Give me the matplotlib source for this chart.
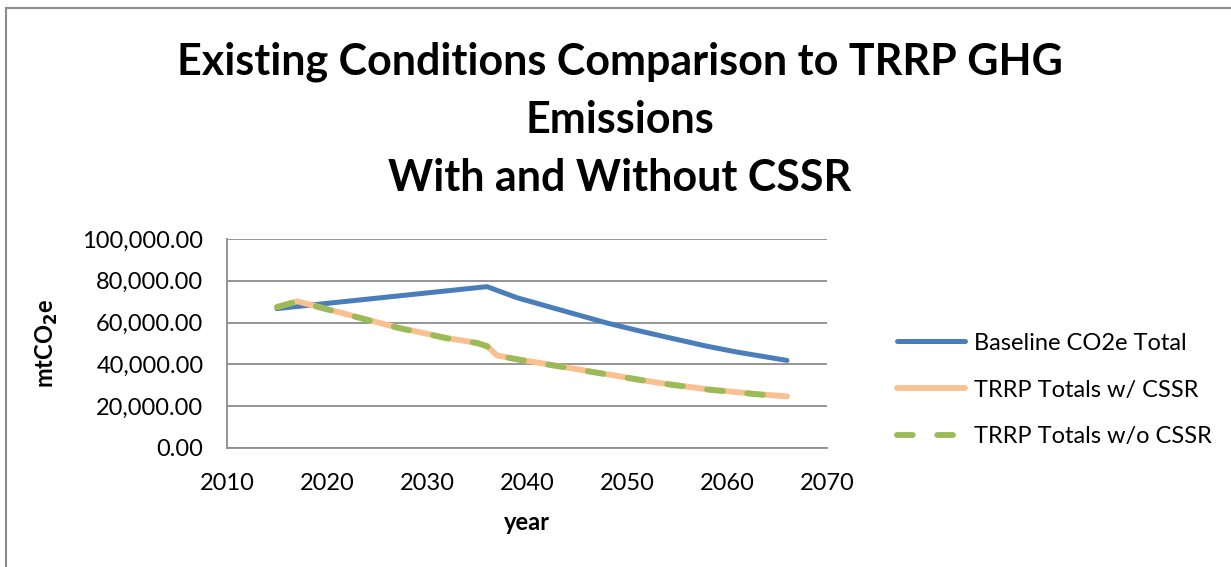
import matplotlib
matplotlib.use("Agg")
import matplotlib.pyplot as plt
from matplotlib.patches import Rectangle
from matplotlib.ticker import FuncFormatter

# emissions series (mtCO2e)
baseline_years = [2015, 2036, 2039, 2043, 2048, 2051, 2054, 2058, 2061, 2066]
baseline_co2e = [66700, 77200, 71900, 66500, 59800, 56300, 53000, 48700, 45900, 41900]

trrp_years = [2015, 2017, 2027, 2032, 2035, 2036, 2037, 2039, 2043, 2048, 2053, 2058, 2063, 2066]
trrp_with_cssr = [67500, 70200, 57700, 52600, 50300, 48800, 44300, 42500, 39300, 35300, 31300, 28100, 25800, 24700]
trrp_without_cssr = [67400, 70100, 57600, 52500, 50200, 48700, 44200, 42400, 39200, 35200, 31200, 28000, 25700, 24600]

series_labels = ["Baseline CO2e Total", "TRRP Totals w/ CSSR", "TRRP Totals w/o CSSR"]
x_ticks = [2010, 2020, 2030, 2040, 2050, 2060, 2070]
y_ticks = [0, 20000, 40000, 60000, 80000, 100000]

plt.rcParams['font.family'] = ['Lato', 'DejaVu Sans']

fig = plt.figure(figsize=(12.31, 5.67), dpi=100)
ax = fig.add_axes([227 / 1231, 1 - 448 / 567, 600 / 1231, 209 / 567])

ax.plot(baseline_years, baseline_co2e, color='#4a7ebb', lw=3.6,
        solid_capstyle='round', solid_joinstyle='round', label=series_labels[0])
ax.plot(trrp_years, trrp_with_cssr, color='#fac090', lw=4.2,
        solid_capstyle='round', solid_joinstyle='round', label=series_labels[1])
ax.plot(trrp_years, trrp_without_cssr, color='#9bbb59', lw=4.2,
        dashes=(2.7, 4.2), dash_capstyle='round', label=series_labels[2])

ax.set_xlim(2010, 2070)
ax.set_ylim(0, 100000)
ax.set_xticks(x_ticks)
ax.set_yticks(y_ticks)
ax.yaxis.set_major_formatter(FuncFormatter(lambda v, p: f"{v:,.2f}"))
ax.tick_params(length=0, labelsize=17)
ax.tick_params(axis='y', pad=17)
ax.tick_params(axis='x', pad=18)
ax.grid(axis='y', color='#8c8c8c', lw=1.3)
ax.set_axisbelow(True)
for side in ('top', 'right'):
    ax.spines[side].set_visible(False)
for side in ('left', 'bottom'):
    ax.spines[side].set_color('#8c8c8c')
    ax.spines[side].set_linewidth(1.3)

ax.set_xlabel("year", fontsize=17, fontweight='bold', labelpad=12)
ax.set_ylabel("mtCO$_\\mathbf{2}$e", fontsize=17, fontweight='bold')
ax.yaxis.set_label_coords(-0.278, 0.5)

title_lines = ["Existing Conditions Comparison to TRRP GHG", "Emissions", "With and Without CSSR"]
for i, line in enumerate(title_lines):
    fig.text(620 / 1231, 1 - (62 + 58 * i) / 567, line,
             ha='center', va='center', fontsize=31, fontweight='bold')

fig.legend(loc='center left', bbox_to_anchor=(897 / 1231, 1 - 390 / 567),
           frameon=False, fontsize=17, handlelength=2.9, labelspacing=1.1,
           handletextpad=0.35, borderpad=0, borderaxespad=0)

# chart frame
fig.patches.append(Rectangle((6 / 1231, -0.1), 1.2, 1 - 8 / 567 + 0.1,
                             transform=fig.transFigure, fill=False,
                             edgecolor='#8c8c8c', lw=1.5))

fig.savefig("out.png", dpi=100)
